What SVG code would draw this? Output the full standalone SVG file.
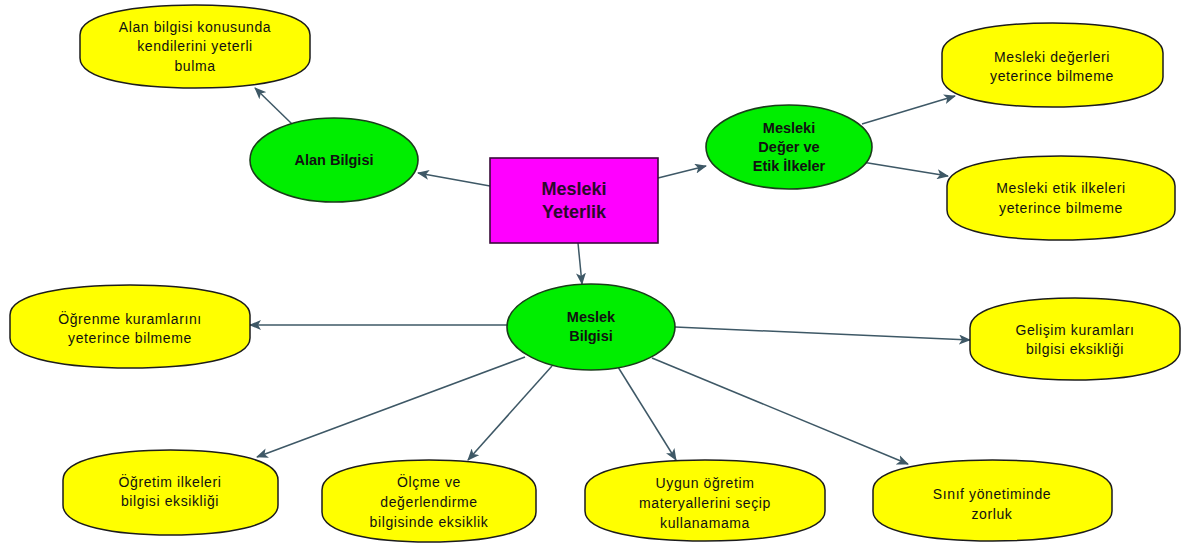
<svg xmlns="http://www.w3.org/2000/svg" width="1185" height="544" viewBox="0 0 1185 544">
  <style>
    .box { fill: #ffff00; stroke: #1c1c1c; stroke-width: 1.5; }
    .oval { fill: #00ee00; stroke: #1a3d1a; stroke-width: 1.6; }
    .root { fill: #ff00ff; stroke: #3a0a3a; stroke-width: 1.6; }
    .t { font-family: "Liberation Sans", Arial, sans-serif; font-size: 14px; letter-spacing: 0.6px; fill: #111; text-anchor: middle; }
    .tb { font-family: "Liberation Sans", Arial, sans-serif; font-size: 14.5px; font-weight: bold; fill: #111; text-anchor: middle; }
    .tr { font-family: "Liberation Sans", Arial, sans-serif; font-size: 18px; font-weight: bold; fill: #2a0a2a; text-anchor: middle; }
    .link { stroke: #3e5866; stroke-width: 1.5; fill: none; marker-end: url(#head); }
  </style>
  <defs>
    <marker id="head" markerWidth="12" markerHeight="10" refX="11" refY="5" orient="auto" markerUnits="userSpaceOnUse">
      <path d="M0,0 L12,5 L0,10 L3,5 Z" fill="#3e5866"/>
    </marker>
  </defs>
  <rect width="1185" height="544" fill="#ffffff"/>

  <!-- connectors -->
  <g id="connectors">
    <line class="link" x1="292" y1="124" x2="255" y2="88"/>
    <line class="link" x1="490" y1="186" x2="418" y2="173"/>
    <line class="link" x1="658" y1="178" x2="706" y2="166"/>
    <line class="link" x1="862" y1="124" x2="955" y2="96"/>
    <line class="link" x1="862" y1="162" x2="948" y2="176"/>
    <line class="link" x1="578" y1="243" x2="582" y2="284"/>
    <line class="link" x1="508" y1="325" x2="250" y2="325"/>
    <line class="link" x1="675" y1="327" x2="970" y2="340"/>
    <line class="link" x1="525" y1="357" x2="257" y2="457"/>
    <line class="link" x1="552" y1="366" x2="468" y2="460"/>
    <line class="link" x1="618" y1="367" x2="676" y2="460"/>
    <line class="link" x1="652" y1="358" x2="908" y2="464"/>
  </g>

  <g id="alan-bilgisi-yeterli">
    <path class="box" d="M80,35 C80,13 137.5,5 195,5 C252.5,5 310,13 310,35 L310,58 C310,80 252.5,88 195,88 C137.5,88 80,80 80,58 Z"/>
    <text class="t" x="195" y="32">Alan bilgisi konusunda</text>
    <text class="t" x="195" y="51">kendilerini yeterli</text>
    <text class="t" x="195" y="71">bulma</text>
  </g>

  <g id="alan-bilgisi">
    <ellipse class="oval" cx="334" cy="160" rx="84" ry="42"/>
    <text class="tb" x="334" y="165">Alan Bilgisi</text>
  </g>

  <g id="mesleki-yeterlik">
    <rect class="root" x="490" y="158" width="168" height="85"/>
    <text class="tr" x="574" y="195">Mesleki</text>
    <text class="tr" x="574" y="218">Yeterlik</text>
  </g>

  <g id="mesleki-deger-etik">
    <ellipse class="oval" cx="789" cy="147" rx="83" ry="42"/>
    <text class="tb" x="789" y="133">Mesleki</text>
    <text class="tb" x="789" y="152">Değer ve</text>
    <text class="tb" x="789" y="171">Etik İlkeler</text>
  </g>

  <g id="mesleki-degerler">
    <path class="box" d="M942,53 C942,31 997,23 1052.5,23 C1108,23 1163,31 1163,53 L1163,77 C1163,99 1108,107 1052.5,107 C997,107 942,99 942,77 Z"/>
    <text class="t" x="1052" y="62">Mesleki değerleri</text>
    <text class="t" x="1052" y="81">yeterince bilmeme</text>
  </g>

  <g id="mesleki-etik">
    <path class="box" d="M947,186 C947,164 1004,156 1061,156 C1118,156 1175,164 1175,186 L1175,210 C1175,232 1118,240 1061,240 C1004,240 947,232 947,210 Z"/>
    <text class="t" x="1061" y="193">Mesleki etik ilkeleri</text>
    <text class="t" x="1061" y="213">yeterince bilmeme</text>
  </g>

  <g id="meslek-bilgisi">
    <ellipse class="oval" cx="591" cy="327" rx="84" ry="43"/>
    <text class="tb" x="591" y="322">Meslek</text>
    <text class="tb" x="591" y="341">Bilgisi</text>
  </g>

  <g id="ogrenme-kuramlari">
    <path class="box" d="M10,315 C10,293 70,285 130,285 C190,285 250,293 250,315 L250,338 C250,360 190,368 130,368 C70,368 10,360 10,338 Z"/>
    <text class="t" x="130" y="324">Öğrenme kuramlarını</text>
    <text class="t" x="130" y="343">yeterince bilmeme</text>
  </g>

  <g id="gelisim-kuramlari">
    <path class="box" d="M970,328 C970,306 1022.5,298 1075,298 C1127.5,298 1180,306 1180,328 L1180,350 C1180,372 1127.5,380 1075,380 C1022.5,380 970,372 970,350 Z"/>
    <text class="t" x="1075" y="335">Gelişim kuramları</text>
    <text class="t" x="1075" y="354">bilgisi eksikliği</text>
  </g>

  <g id="ogretim-ilkeleri">
    <path class="box" d="M63,480 C63,458 117,450 170.5,450 C224,450 278,458 278,480 L278,505 C278,527 224,535 170.5,535 C117,535 63,527 63,505 Z"/>
    <text class="t" x="170" y="487">Öğretim ilkeleri</text>
    <text class="t" x="170" y="506">bilgisi eksikliği</text>
  </g>

  <g id="olcme-degerlendirme">
    <path class="box" d="M322,490 C322,468 375.5,460 429,460 C482.5,460 536,468 536,490 L536,512 C536,534 482.5,542 429,542 C375.5,542 322,534 322,512 Z"/>
    <text class="t" x="429" y="487">Ölçme ve</text>
    <text class="t" x="429" y="507">değerlendirme</text>
    <text class="t" x="429" y="527">bilgisinde eksiklik</text>
  </g>

  <g id="ogretim-materyalleri">
    <path class="box" d="M585,490 C585,468 645,460 705,460 C765,460 825,468 825,490 L825,511 C825,533 765,541 705,541 C645,541 585,533 585,511 Z"/>
    <text class="t" x="705" y="488">Uygun öğretim</text>
    <text class="t" x="705" y="508">materyallerini seçip</text>
    <text class="t" x="705" y="528">kullanamama</text>
  </g>

  <g id="sinif-yonetimi">
    <path class="box" d="M873,490 C873,468 933,460 992.5,460 C1052,460 1112,468 1112,490 L1112,511 C1112,533 1052,541 992.5,541 C933,541 873,533 873,511 Z"/>
    <text class="t" x="992" y="499">Sınıf yönetiminde</text>
    <text class="t" x="992" y="519">zorluk</text>
  </g>
</svg>
